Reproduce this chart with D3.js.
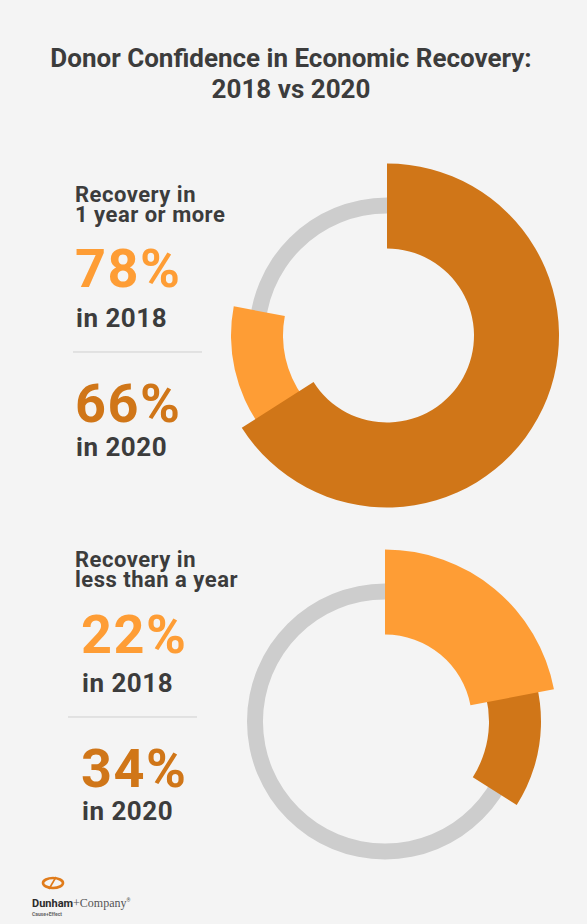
<!DOCTYPE html>
<html>
<head>
<meta charset="utf-8">
<script src="https://cdn.jsdelivr.net/npm/d3@7"></script>
<style>
  html, body { margin: 0; padding: 0; background: #f4f4f4; }
  svg { display: block; }
  text { font-family: Roboto, "Open Sans", sans-serif; }
</style>
</head>
<body>
<svg id="chart" width="587" height="924"></svg>
<script>
// Survey results: share of donors expecting economic recovery
const groups = ["Recovery in 1 year or more", "Recovery in less than a year"];
const headingLines = [["Recovery in", "1 year or more"], ["Recovery in", "less than a year"]];
const years = ["2018", "2020"];
const values2018 = [78, 22];
const values2020 = [66, 34];
const titleLines = ["Donor Confidence in Economic Recovery:", "2018 vs 2020"];

const W = 587, H = 924;
const colors = { "2018": "#fe9d35", "2020": "#d07618" };
const textDark = "#3c3c3c";

const svg = d3.select("#chart");
svg.append("rect").attr("width", W).attr("height", H).attr("fill", "#f4f4f4");

// Title
svg.append("g").selectAll("text")
  .data(titleLines)
  .join("text")
  .attr("x", 291)
  .attr("y", (d, i) => 67 + i * 31)
  .attr("text-anchor", "middle")
  .attr("font-size", 26)
  .attr("font-weight", 700)
  .attr("fill", textDark)
  .text(d => d);

// Percent -> angle, clockwise from 12 o'clock
const angle = d3.scaleLinear().domain([0, 100]).range([0, 2 * Math.PI]);

// Panel layout
const panels = [
  { cx: 387, cy: 335.5, tx: 75, vx: 77, headY: 202, valY: [287, 422], yearY: [327, 456], divY: 352, divX: [73, 202] },
  { cx: 385, cy: 721.5, tx: 75, vx: 83, headY: 567, valY: [653, 787], yearY: [692, 820], divY: 717, divX: [68, 197] }
];

const track = d3.arc().innerRadius(122).outerRadius(138).startAngle(0).endAngle(2 * Math.PI);
const wide = d3.arc().innerRadius(87).outerRadius(172);   // smaller share, drawn in front
const narrow = d3.arc().innerRadius(104).outerRadius(156); // larger share, drawn behind

groups.forEach((name, gi) => {
  const p = panels[gi];
  const g = svg.append("g").attr("class", "panel").attr("aria-label", name);

  const ring = g.append("g").attr("transform", `translate(${p.cx},${p.cy})`);
  ring.append("path").attr("d", track()).attr("fill", "#cdcdcd");

  const series = years.map((y, i) => ({ year: y, value: (i === 0 ? values2018 : values2020)[gi] }));
  const ordered = series.slice().sort((a, b) => b.value - a.value);
  ordered.forEach((s, k) => {
    const gen = k === 0 ? narrow : wide;
    ring.append("path")
      .attr("d", gen({ startAngle: angle(0), endAngle: angle(s.value) }))
      .attr("fill", colors[s.year]);
  });

  // Heading, two tight lines
  g.append("text")
    .attr("x", p.tx).attr("y", p.headY)
    .attr("font-size", 22).attr("font-weight", 700).attr("fill", textDark)
    .attr("letter-spacing", 0.5)
    .selectAll("tspan")
    .data(headingLines[gi])
    .join("tspan")
    .attr("x", p.tx)
    .attr("dy", (d, i) => i === 0 ? 0 : 20)
    .text(d => d);

  // Values per year
  series.forEach((s, i) => {
    g.append("text")
      .attr("x", p.vx - 2).attr("y", p.valY[i])
      .attr("font-size", 54).attr("font-weight", 700)
      .attr("letter-spacing", 1.5)
      .attr("fill", colors[s.year])
      .text(s.value + "%");
    g.append("text")
      .attr("x", p.vx - 1).attr("y", p.yearY[i])
      .attr("font-size", 26).attr("font-weight", 700).attr("fill", textDark)
      .attr("letter-spacing", 0.5)
      .text("in " + s.year);
  });

  g.append("line")
    .attr("x1", p.divX[0]).attr("x2", p.divX[1])
    .attr("y1", p.divY).attr("y2", p.divY)
    .attr("stroke", "#cfcfcf").attr("stroke-width", 1);
});

// Footer logo
const logo = svg.append("g").attr("class", "logo");
logo.append("ellipse").attr("cx", 53).attr("cy", 883).attr("rx", 10).attr("ry", 5)
  .attr("fill", "none").attr("stroke", "#e07b1a").attr("stroke-width", 2.6);
logo.append("line").attr("x1", 49).attr("y1", 889).attr("x2", 56).attr("y2", 877)
  .attr("stroke", "#e07b1a").attr("stroke-width", 1.6);
const brand = logo.append("text").attr("x", 32).attr("y", 907).attr("fill", "#2b2b2b");
brand.append("tspan").attr("font-size", 11).attr("font-weight", 700).text("Dunham");
brand.append("tspan").attr("font-size", 12).attr("font-family", "Liberation Serif, serif").attr("fill", "#555").text("+Company");
brand.append("tspan").attr("font-size", 5).attr("dy", -5).attr("fill", "#555").text("®");
logo.append("text").attr("x", 32).attr("y", 916).attr("font-size", 5).attr("font-weight", 700)
  .attr("fill", "#666").text("Cause+Effect");
</script>
</body>
</html>
